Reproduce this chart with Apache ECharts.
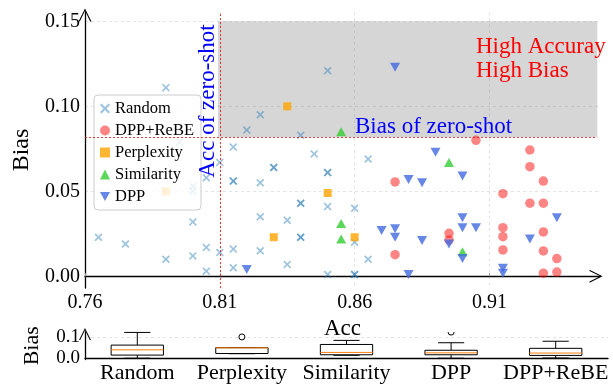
<!DOCTYPE html>
<html>
<head>
<meta charset="utf-8">
<script src="https://cdn.jsdelivr.net/npm/echarts@6/dist/echarts.min.js"></script>
<style>html,body{margin:0;padding:0;background:#fff}#c{width:613px;height:385px}</style>
</head>
<body>
<div id="c"></div>
<script>
// ---------- data ----------
const randomAcc = [0.79,0.825,0.82,0.815,0.795,0.85,0.84,0.81,0.815,0.815,0.805,0.825,0.80,0.80,0.80,0.765,0.775,0.79,0.80,0.805,0.805,0.81,0.815,0.815,0.825,0.825,0.845,0.83,0.83,0.865,0.85,0.85,0.84,0.84,0.85,0.835,0.86,0.84,0.84,0.86,0.835,0.865,0.85,0.86,0.86];
const randomBias = [0.111,0.095,0.086,0.076,0.079,0.121,0.083,0.067,0.056,0.056,0.058,0.055,0.053,0.050,0.032,0.023,0.019,0.010,0.012,0.017,0.003,0.014,0.016,0.005,0.035,0.015,0.072,0.064,0.064,0.069,0.061,0.061,0.043,0.043,0.041,0.033,0.040,0.023,0.023,0.020,0.007,0.010,0.001,0.001,0.001];
const rebeAcc = [0.875,0.875,0.905,0.925,0.925,0.93,0.915,0.925,0.93,0.915,0.915,0.895,0.895,0.93,0.915,0.93,0.935,0.93,0.935];
const rebeBias = [0.0555,0.0127,0.080,0.0743,0.0645,0.056,0.0486,0.043,0.043,0.0286,0.0233,0.0253,0.0214,0.0261,0.0155,0.0149,0.0104,0.0018,0.0025];
const perpAcc = [0.835,0.79,0.85,0.83,0.86];
const perpBias = [0.100,0.050,0.049,0.023,0.023];
const simAcc = [0.855,0.855,0.855,0.895,0.90];
const simBias = [0.085,0.031,0.022,0.067,0.0145];
const dppAcc = [0.82,0.875,0.88,0.885,0.87,0.875,0.875,0.885,0.88,0.89,0.90,0.90,0.90,0.905,0.935,0.895,0.925,0.90,0.915,0.915];
const dppBias = [0.004,0.123,0.057,0.055,0.027,0.028,0.023,0.021,0.001,0.073,0.059,0.0345,0.0285,0.0285,0.0345,0.019,0.022,0.0105,0.0047,0.0018];

const zeroShotAcc = 0.8093;
const zeroShotBias = 0.082;
const regionAccMax = 0.95;
const regionBiasMax = 0.15;

const xTicks = [0.76,0.81,0.86,0.91];
const yTicks = [0,0.05,0.10,0.15];

const boxCategories = ['Random','Perplexity','Similarity','DPP','DPP+ReBE'];
const boxLow    = [0.001, 0.022, 0.0145, 0.001, 0.0018];
const boxQ1     = [0.0155,0.023, 0.017, 0.017, 0.014];
const boxMedian = [0.040, 0.049, 0.028, 0.026, 0.025];
const boxQ3     = [0.062, 0.050, 0.065, 0.038, 0.047];
const boxHigh   = [0.121, 0.050, 0.084, 0.073, 0.080];
const outlierCat = ['Perplexity','DPP'];
const outlierVal = [0.100, 0.1225];
const boxTicks = [0, 0.1];

// ---------- helpers ----------
const zip = (a,b) => a.map((v,i)=>[v,b[i]]);
const FONT = 'Liberation Serif';
const X_SYM = 'path://M1.5,0L5,3.5L8.5,0L10,1.5L6.5,5L10,8.5L8.5,10L5,6.5L1.5,10L0,8.5L3.5,5L0,1.5Z';
const DOWN_TRI = 'path://M0,0L10,0L5,9Z';
const CHEVRON = 'path://M5,0L10,10L9,10L5,1.8L1,10L0,10Z';

const chart = echarts.init(document.getElementById('c'), null, {renderer:'canvas'});

const boxData = boxCategories.map((c,i)=>[i, boxLow[i], boxQ1[i], boxMedian[i], boxQ3[i], boxHigh[i]]);
const outlierData = outlierCat.map((c,i)=>[boxCategories.indexOf(c), outlierVal[i]]);

const option = {
  animation:false,
  backgroundColor:'#fff',
  textStyle:{fontFamily:FONT},
  grid:[
    {left:85, right:13, top:12, height:276},
    {left:85, right:5, top:332, height:27.5}
  ],
  xAxis:[
    {type:'value', gridIndex:0, min:0.76, max:0.951,
     name:'Acc', nameLocation:'middle', nameGap:24,
     nameTextStyle:{fontFamily:FONT, fontSize:23, color:'#000'},
     axisLine:{show:true, lineStyle:{color:'#000', width:1.3}, symbol:['none',CHEVRON], symbolSize:[13,14], symbolOffset:[0,-4]},
     axisTick:{show:true, inside:true, length:3, lineStyle:{color:'#999'}, customValues:xTicks},
     axisLabel:{customValues:xTicks, formatter:v=>v.toFixed(2), fontFamily:FONT, fontSize:20, color:'#000', margin:5},
     splitLine:{show:true, lineStyle:{color:'#ddd', type:[3,3], width:0.8}}},
    {type:'category', gridIndex:1, data:boxCategories, boundaryGap:true,
     axisLine:{show:true, lineStyle:{color:'#000', width:1.3}},
     axisTick:{show:false},
     axisLabel:{interval:0, fontFamily:FONT, fontSize:22, color:'#000', margin:3},
     splitLine:{show:false}}
  ],
  yAxis:[
    {type:'value', gridIndex:0, min:-0.0069, max:0.1555,
     name:'Bias', nameLocation:'middle', nameGap:49, nameRotate:90,
     nameTextStyle:{fontFamily:FONT, fontSize:24, color:'#000'},
     axisLine:{show:true, lineStyle:{color:'#000', width:1.3}, symbol:['none',CHEVRON], symbolSize:[13,14], symbolOffset:[0,-3]},
     axisTick:{show:false, customValues:yTicks},
     axisLabel:{customValues:yTicks, formatter:v=>v.toFixed(2), fontFamily:FONT, fontSize:20, color:'#000', margin:5},
     splitLine:{show:true, lineStyle:{color:'#ddd', type:[3,3], width:0.8}}},
    {type:'value', gridIndex:1, min:-0.005, max:0.123,
     name:'Bias', nameLocation:'middle', nameGap:42, nameRotate:90,
     nameTextStyle:{fontFamily:FONT, fontSize:22, color:'#000'},
     axisLine:{show:true, lineStyle:{color:'#000', width:1.3}, symbol:['none',CHEVRON], symbolSize:[12,12], symbolOffset:[0,-2]},
     axisTick:{show:false, customValues:boxTicks},
     axisLabel:{customValues:boxTicks, formatter:v=>v.toFixed(1), fontFamily:FONT, fontSize:19, color:'#000', margin:5},
     splitLine:{show:true, lineStyle:{color:'#ddd', type:[3,3], width:0.8}}}
  ],
  legend:{
    left:94, top:95, orient:'vertical', itemWidth:10, itemHeight:10, itemGap:5,
    padding:[5,7,5,6], backgroundColor:'rgba(255,255,255,0.8)', borderColor:'#ccc', borderWidth:1, borderRadius:4,
    textStyle:{fontFamily:FONT, fontSize:16.5, color:'#000'},
    data:['Random','DPP+ReBE','Perplexity','Similarity','DPP']
  },
  graphic:[
    {type:'text', x:208, y:101, rotation:Math.PI/2, z:10,
     style:{text:'Acc of zero-shot', fill:'#0000ff', font:'23px "Liberation Serif"', align:'center', verticalAlign:'middle'}},
    {type:'text', x:355, y:127, z:10,
     style:{text:'Bias of zero-shot', fill:'#0000ff', font:'23px "Liberation Serif"', align:'left', verticalAlign:'middle'}},
    {type:'text', x:476, y:35, z:10,
     style:{text:'High Accuray\nHigh Bias', fill:'#ff0000', font:'23px "Liberation Serif"', lineHeight:24, align:'left', verticalAlign:'top'}}
  ],
  series:[
    {name:'Random', type:'scatter', xAxisIndex:0, yAxisIndex:0, data:zip(randomAcc, randomBias),
     symbol:X_SYM, symbolSize:8, itemStyle:{color:'rgba(31,119,180,0.55)'},
     markArea:{silent:true, itemStyle:{color:'rgba(128,128,128,0.32)'},
       data:[[{coord:[zeroShotAcc, zeroShotBias]},{coord:[regionAccMax, regionBiasMax]}]]},
     markLine:{silent:true, symbol:['none','none'], label:{show:false},
       lineStyle:{color:'#ff0000', type:[2,2], width:0.8},
       data:[
         {xAxis:zeroShotAcc},
         [{coord:[0.76, zeroShotBias]},{coord:[regionAccMax, zeroShotBias]}]
       ]}},
    {name:'DPP+ReBE', type:'scatter', xAxisIndex:0, yAxisIndex:0, data:zip(rebeAcc, rebeBias),
     symbol:'circle', symbolSize:9.5, itemStyle:{color:'rgba(255,0,0,0.6)'}},
    {name:'Perplexity', type:'scatter', xAxisIndex:0, yAxisIndex:0, data:zip(perpAcc, perpBias),
     symbol:'rect', symbolSize:8, itemStyle:{color:'#ffa500'}},
    {name:'Similarity', type:'scatter', xAxisIndex:0, yAxisIndex:0, data:zip(simAcc, simBias),
     symbol:'triangle', symbolSize:[10,9], itemStyle:{color:'#32cd32'}},
    {name:'DPP', type:'scatter', xAxisIndex:0, yAxisIndex:0, data:zip(dppAcc, dppBias),
     symbol:DOWN_TRI, symbolSize:[10,9], itemStyle:{color:'#4169e1'}},
    {name:'box', type:'custom', xAxisIndex:1, yAxisIndex:1, data:boxData,
     encode:{x:0, y:[1,2,3,4,5]},
     renderItem:function(params, api){
       const i = api.value(0);
       const lo = api.coord([i, api.value(1)]);
       const q1 = api.coord([i, api.value(2)]);
       const md = api.coord([i, api.value(3)]);
       const q3 = api.coord([i, api.value(4)]);
       const hi = api.coord([i, api.value(5)]);
       const bw = api.size([1,0])[0]*0.5;
       const cw = bw*0.5;
       const x = lo[0];
       const ls = {stroke:'#000', lineWidth:1};
       return {type:'group', children:[
         {type:'line', shape:{x1:x,y1:hi[1],x2:x,y2:q3[1]}, style:ls},
         {type:'line', shape:{x1:x,y1:q1[1],x2:x,y2:lo[1]}, style:ls},
         {type:'line', shape:{x1:x-cw/2,y1:hi[1],x2:x+cw/2,y2:hi[1]}, style:ls},
         {type:'line', shape:{x1:x-cw/2,y1:lo[1],x2:x+cw/2,y2:lo[1]}, style:ls},
         {type:'rect', shape:{x:x-bw/2,y:q3[1],width:bw,height:q1[1]-q3[1]}, style:{fill:'#fff', stroke:'#000', lineWidth:1}},
         {type:'line', shape:{x1:x-bw/2,y1:md[1],x2:x+bw/2,y2:md[1]}, style:{stroke:'#ff7f0e', lineWidth:1}}
       ]};
     }},
    {name:'outliers', type:'custom', xAxisIndex:1, yAxisIndex:1, data:outlierData, clip:true,
     encode:{x:0, y:1},
     renderItem:function(params, api){
       const p = api.coord([api.value(0), api.value(1)]);
       return {type:'circle', shape:{cx:p[0], cy:p[1], r:3}, style:{fill:'#fff', stroke:'#000', lineWidth:1}};
     }}
  ]
};
chart.setOption(option);
</script>
</body>
</html>
